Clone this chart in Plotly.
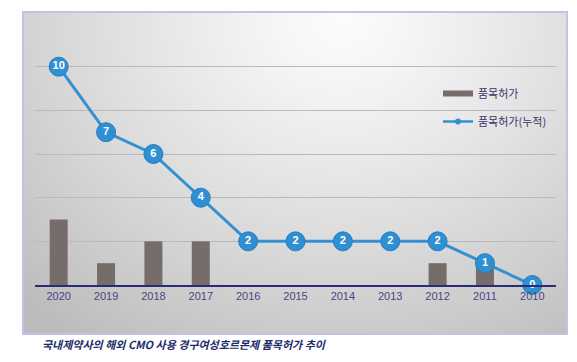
import base64, struct, zlib
import numpy as np
import plotly.graph_objects as go

years = ['2020', '2019', '2018', '2017', '2016', '2015', '2014', '2013', '2012', '2011', '2010']
approvals = [3, 1, 2, 2, 0, 0, 0, 0, 1, 1, 0]
cumulative = [10, 7, 6, 4, 2, 2, 2, 2, 2, 1, 0]
caption = '국내제약사의 해외 CMO 사용 경구여성호르몬제 품목허가 추이'
BAR_COLOR = '#766d6a'
LINE_COLOR = '#3391d2'

OFF = 8  # page body margin
W, H = 577 - OFF, 362 - OFF
L, R, T, B = 35 - OFF, 21, 23 - OFF, 77
PW, PH = W - L - R, H - T - B
BOX = (23 - OFF, 12 - OFF, 567 - OFF, 334 - OFF)


def png_uri(arr):
    h, w, _ = arr.shape
    raw = b''.join(b'\x00' + arr[i].tobytes() for i in range(h))

    def chunk(tag, data):
        return struct.pack('>I', len(data)) + tag + data + struct.pack('>I', zlib.crc32(tag + data) & 0xffffffff)
    png = b'\x89PNG\r\n\x1a\n' + chunk(b'IHDR', struct.pack('>IIBBBBB', w, h, 8, 2, 0, 0, 0)) \
        + chunk(b'IDAT', zlib.compress(raw, 9)) + chunk(b'IEND', b'')
    return 'data:image/png;base64,' + base64.b64encode(png).decode()


# radial background gradient (decoration)
bw, bh = (BOX[2] - BOX[0]) // 2, (BOX[3] - BOX[1]) // 2
yy, xx = np.mgrid[0:bh, 0:bw]
px = 23 + xx * 2.0
py = 12 + yy * 2.0
d = np.sqrt(((px - 340) / 1.0) ** 2 + ((py - 20) / 0.85) ** 2)
v = 252 - 62 * np.clip(d / 450, 0, 1.2) ** 1.2
v = np.clip(v, 188, 252).astype(np.uint8)
img = np.stack([v, v, v], axis=-1)


def fx(p):
    return (p - OFF - L) / PW


def fy(p):
    return (T + PH - (p - OFF)) / PH


fig = go.Figure()
fig.add_trace(go.Bar(
    x=years, y=approvals, name='품목허가', marker=dict(color=BAR_COLOR, line=dict(width=0)),
    showlegend=False, hoverinfo='skip'))
fig.add_trace(go.Scatter(
    x=years, y=cumulative, name='품목허가(누적)', mode='lines+markers+text',
    line=dict(color=LINE_COLOR, width=3),
    marker=dict(size=19, color='#2f8fd3', line=dict(color='#2a7cbb', width=1)),
    texttemplate='<b>%{y}</b>', textposition='middle center',
    textfont=dict(color='white', size=11, family='Liberation Sans, Arial'),
    cliponaxis=False, showlegend=False))
# legend entries (styled like the original's legend keys)
fig.add_trace(go.Scatter(x=[None], y=[None], name='품목허가', mode='lines',
                         line=dict(color=BAR_COLOR, width=6), legendgroup='a'))
fig.add_trace(go.Scatter(x=[None], y=[None], name='품목허가(누적)', mode='lines+markers',
                         line=dict(color=LINE_COLOR, width=2.5),
                         marker=dict(size=6, color=LINE_COLOR), legendgroup='b'))

fig.update_layout(
    width=W, height=H,
    margin=dict(l=L, r=R, t=T, b=B, pad=0),
    paper_bgcolor='white', plot_bgcolor='rgba(0,0,0,0)',
    font=dict(family='Liberation Sans, Noto Sans CJK KR, sans-serif', color='#4b4585', size=11),
    bargap=0.62,
    showlegend=True,
    legend=dict(x=fx(438), y=fy(79), xanchor='left', yanchor='top', bgcolor='rgba(0,0,0,0)',
                font=dict(size=11, color='#3b3266', family='Noto Sans CJK KR, sans-serif'),
                traceorder='grouped', tracegroupgap=9, itemwidth=30),
    xaxis=dict(type='category', range=[-0.5, 10.5], showgrid=False, showline=True,
               linecolor='#2b2a7a', linewidth=1.5,
               ticks='', tickfont=dict(size=11, color='#4b4585'), fixedrange=True),
    yaxis=dict(range=[0, 12], dtick=2, showgrid=True, gridcolor='#b9b9c2', gridwidth=1,
               showticklabels=False, zeroline=False, showline=False, fixedrange=True),
    images=[dict(source=png_uri(img), xref='paper', yref='paper', x=fx(23), y=fy(12),
                 sizex=(BOX[2] - BOX[0]) / PW, sizey=(BOX[3] - BOX[1]) / PH,
                 xanchor='left', yanchor='top', sizing='stretch', layer='below')],
    shapes=[dict(type='rect', xref='paper', yref='paper', x0=fx(23), x1=fx(567),
                 y0=fy(334), y1=fy(12), line=dict(color='#c6bfe6', width=2), layer='above')],
    annotations=[dict(text='<b><i>' + caption + '</i></b>', xref='paper', yref='paper',
                      x=fx(40), y=fy(344), xanchor='left', yanchor='middle', showarrow=False,
                      font=dict(size=11, color='#1c2a6a', family='Noto Sans CJK KR, sans-serif'))],
)

fig.write_html('out.html')
